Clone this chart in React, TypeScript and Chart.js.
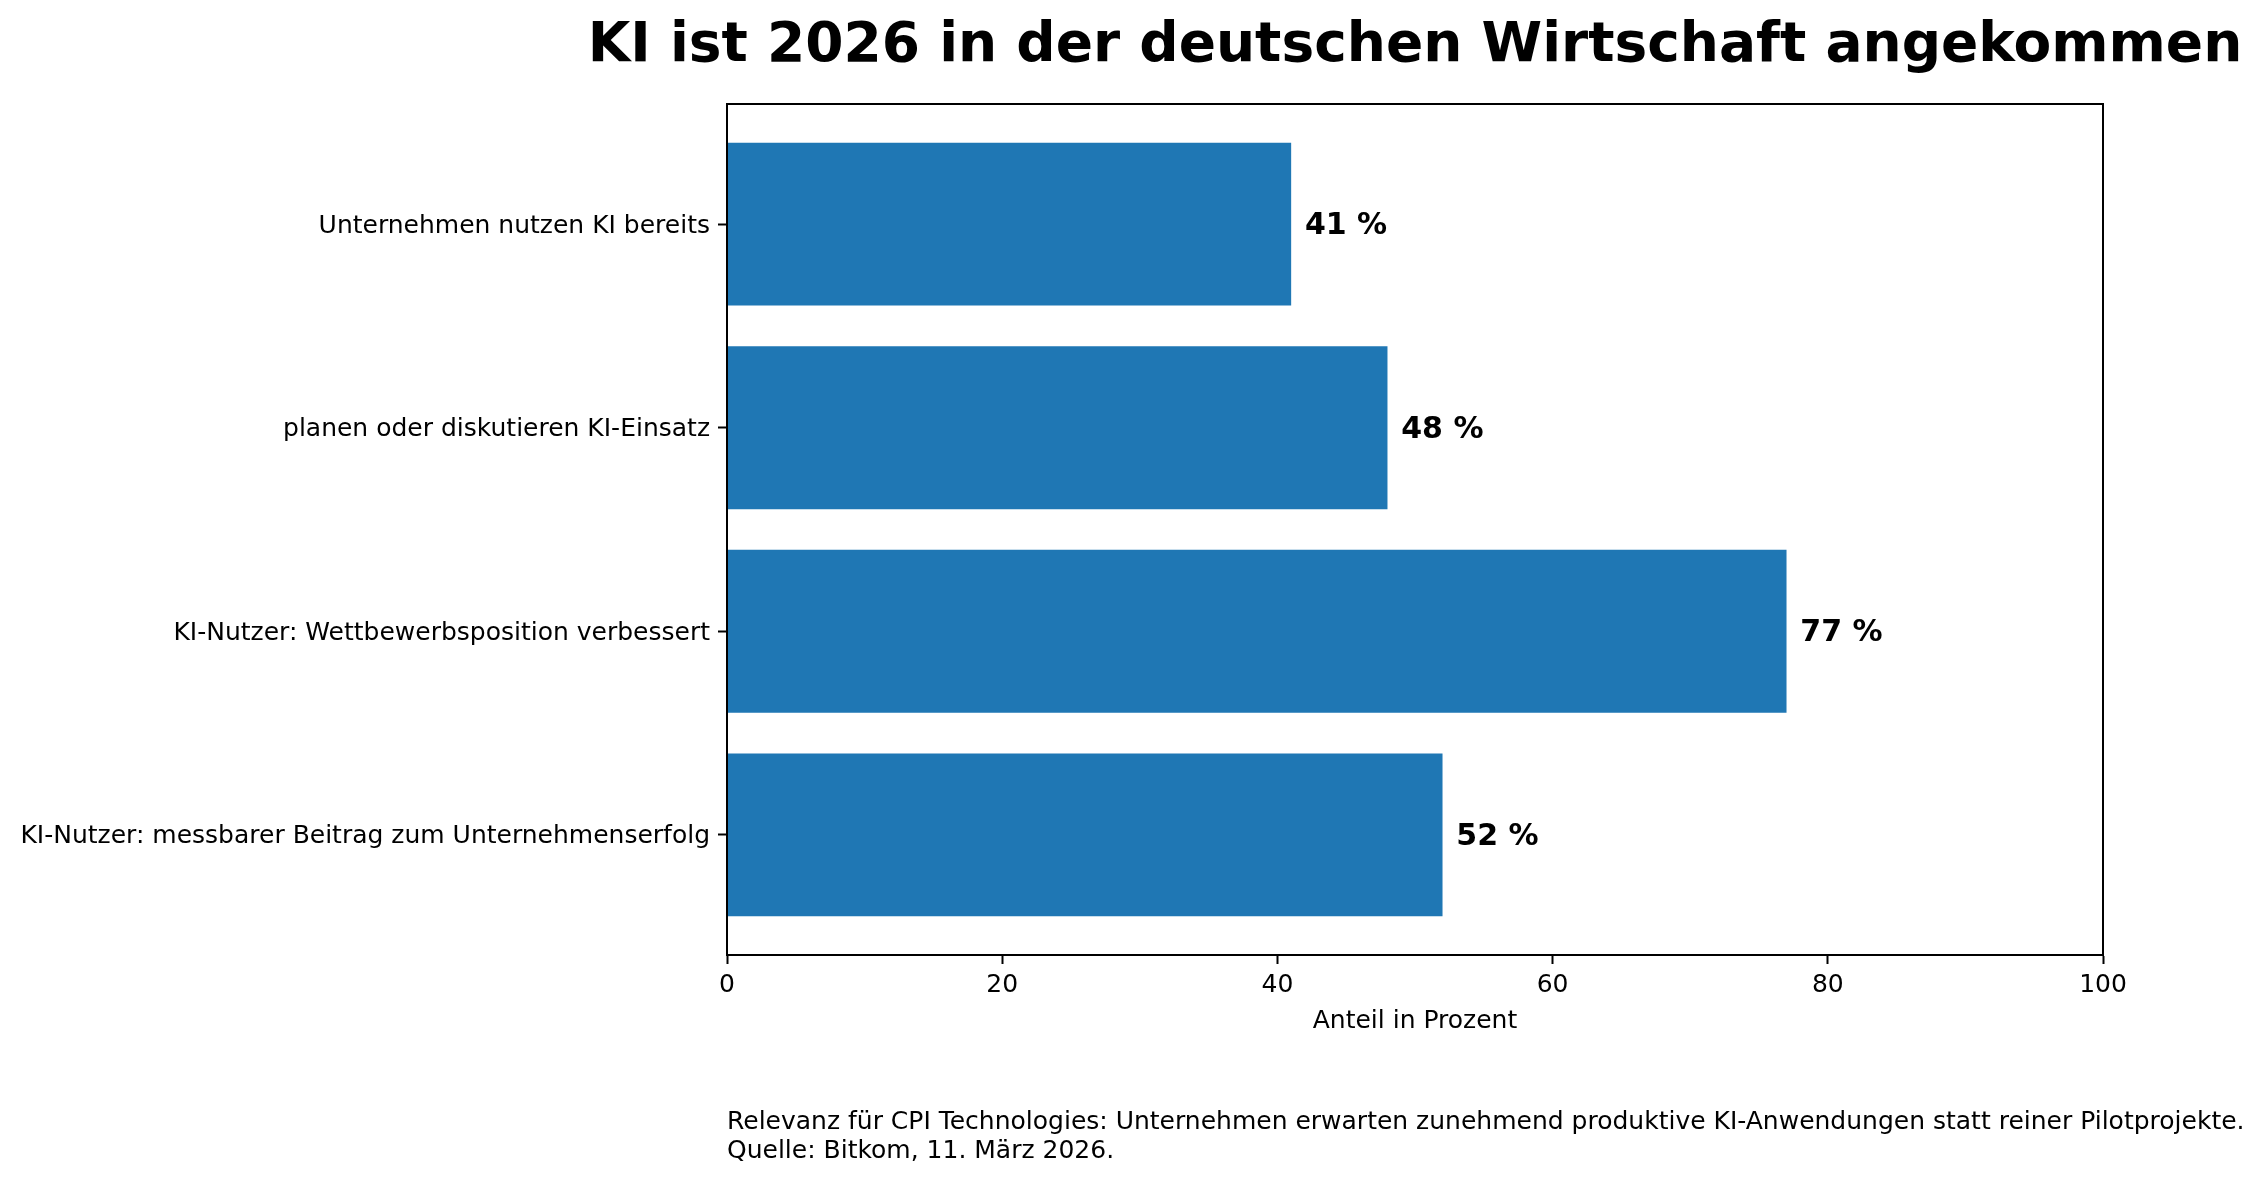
import React, { useEffect, useRef } from "react";
import { Chart, registerables } from "chart.js";

Chart.register(...registerables);

const categories = [
  "Unternehmen nutzen KI bereits",
  "planen oder diskutieren KI-Einsatz",
  "KI-Nutzer: Wettbewerbsposition verbessert",
  "KI-Nutzer: messbarer Beitrag zum Unternehmenserfolg",
];
const values = [41, 48, 77, 52];
const valueLabels = ["41 %", "48 %", "77 %", "52 %"];
const xTicks = [0, 20, 40, 60, 80, 100];
const titleText = "KI ist 2026 in der deutschen Wirtschaft angekommen";
const xAxisLabel = "Anteil in Prozent";
const footnoteLines = [
  "Relevanz für CPI Technologies: Unternehmen erwarten zunehmend produktive KI-Anwendungen statt reiner Pilotprojekte.",
  "Quelle: Bitkom, 11. März 2026.",
];

const W = 2265;
const H = 1179;
const FONT = '"DejaVu Sans", "Liberation Sans", sans-serif';
const BAR_COLOR = "#1f77b4";

const decorPlugin = {
  id: "decor",
  afterDatasetsDraw(chart: any) {
    const { ctx, chartArea } = chart;
    const ca = chartArea;
    ctx.save();
    const meta = chart.getDatasetMeta(0);
    const xScale = chart.scales.x;
    ctx.fillStyle = "#000";
    ctx.font = `bold 30px ${FONT}`;
    ctx.textAlign = "left";
    ctx.textBaseline = "middle";
    meta.data.forEach((el: any, i: number) => {
      const px = xScale.getPixelForValue(values[i] + 1);
      ctx.fillText(valueLabels[i], px, el.y + 2);
    });
    ctx.strokeStyle = "#000";
    ctx.lineWidth = 2;
    ctx.strokeRect(ca.left, ca.top, ca.right - ca.left, ca.bottom - ca.top);
    ctx.restore();
  },
  afterDraw(chart: any) {
    const { ctx, chartArea } = chart;
    const cx = (chartArea.left + chartArea.right) / 2;
    ctx.save();
    ctx.fillStyle = "#000";
    ctx.textBaseline = "alphabetic";
    ctx.font = `bold 55px ${FONT}`;
    ctx.textAlign = "center";
    ctx.fillText(titleText, cx, 61);
    ctx.font = `25px ${FONT}`;
    ctx.fillText(xAxisLabel, cx, 1028);
    ctx.textAlign = "left";
    footnoteLines.forEach((line, i) => {
      ctx.fillText(line, chartArea.left, 1129 + i * 28.5);
    });
    ctx.restore();
  },
};

export default function App() {
  const ref = useRef<HTMLCanvasElement | null>(null);

  useEffect(() => {
    document.body.style.margin = "0";
    const canvas = ref.current;
    if (!canvas) return;
    const chart = new Chart(canvas, {
      type: "bar",
      data: {
        datasets: [
          {
            data: categories.map((_, i) => ({ x: values[i], y: i })),
            backgroundColor: BAR_COLOR,
            borderWidth: 0,
            categoryPercentage: 1,
            barPercentage: 0.8,
          },
        ],
      },
      options: {
        indexAxis: "y",
        animation: false,
        responsive: false,
        layout: { padding: { left: 0, top: 104, right: W - 2103, bottom: 0 } },
        plugins: {
          legend: { display: false },
          tooltip: { enabled: false },
          title: { display: false },
        },
        scales: {
          x: {
            type: "linear",
            position: "bottom",
            min: 0,
            max: 100,
            offset: false,
            afterBuildTicks: (scale: any) => {
              scale.ticks = xTicks.map((v) => ({ value: v }));
            },
            afterFit: (scale: any) => {
              scale.height = H - 955;
            },
            ticks: {
              color: "#000",
              font: { family: FONT, size: 25 },
              padding: 6,
              maxRotation: 0,
            },
            grid: {
              display: true,
              offset: false,
              drawOnChartArea: false,
              drawTicks: true,
              tickLength: 9,
              tickWidth: 2,
              tickColor: "#000",
            },
            border: { display: true, color: "#000", width: 2 },
          },
          y: {
            type: "linear",
            position: "left",
            min: -0.59,
            max: 3.59,
            reverse: true,
            offset: false,
            afterBuildTicks: (scale: any) => {
              scale.ticks = categories.map((_, i) => ({ value: i }));
            },
            afterFit: (scale: any) => {
              scale.width = 727;
            },
            ticks: {
              color: "#000",
              font: { family: FONT, size: 25 },
              padding: 8,
              labelOffset: 2,
              autoSkip: false,
              callback: (v: any) => categories[Math.round(Number(v))] ?? "",
            },
            grid: {
              display: true,
              offset: false,
              drawOnChartArea: false,
              drawTicks: true,
              tickLength: 9,
              tickWidth: 2,
              tickColor: "#000",
            },
            border: { display: true, color: "#000", width: 2 },
          },
        },
      },
      plugins: [decorPlugin],
    });
    return () => chart.destroy();
  }, []);

  return (
    <div style={{ position: "fixed", left: 0, top: 0, width: W, height: H, background: "#fff" }}>
      <canvas ref={ref} width={W} height={H} style={{ width: W, height: H, display: "block" }} />
    </div>
  );
}
